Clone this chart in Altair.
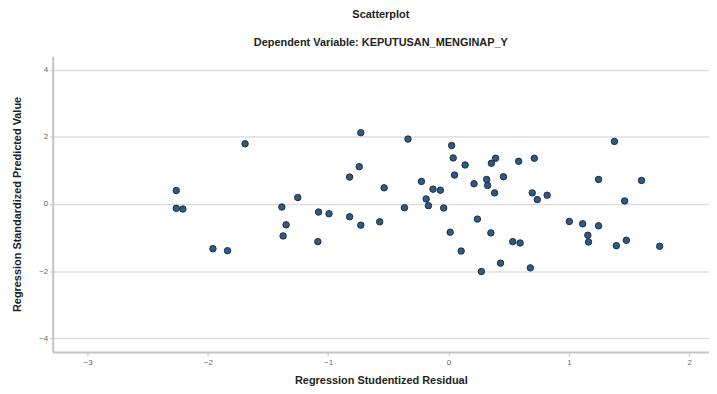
import altair as alt
import pandas as pd

residual = [
    -0.729, -1.691, -0.742, -0.822, -0.535, -2.263, -1.253, -1.385, -2.263, -2.208,
    -1.080, -0.993, -0.822, -0.729, -0.572, -1.350, -1.375, -1.086, -1.958, -1.837,
    -0.337, 1.379, 0.026, 0.039, 0.391, 0.356, 0.713, 0.583, 0.138, 0.050,
    0.457, 1.247, 1.604, -0.225, 0.212, 0.317, 0.325, -0.129, -0.068, 0.383,
    0.696, 0.738, 0.820, 1.464, -0.186, -0.167, -0.366, -0.040, 0.240, 1.004,
    1.115, 1.247, 0.014, 0.352, 1.158, 1.164, 0.534, 0.595, 1.478, 1.395,
    1.755, 0.105, 0.432, 0.680, 0.273,
]
predicted = [
    2.12, 1.79, 1.11, 0.80, 0.48, 0.40, 0.19, -0.09, -0.13, -0.15,
    -0.24, -0.29, -0.38, -0.63, -0.53, -0.62, -0.95, -1.12, -1.33, -1.39,
    1.93, 1.86, 1.74, 1.37, 1.36, 1.21, 1.36, 1.27, 1.16, 0.86,
    0.81, 0.73, 0.70, 0.67, 0.60, 0.73, 0.55, 0.44, 0.41, 0.33,
    0.33, 0.13, 0.26, 0.09, 0.15, -0.05, -0.11, -0.12, -0.45, -0.52,
    -0.59, -0.65, -0.84, -0.86, -0.93, -1.13, -1.12, -1.16, -1.08, -1.24,
    -1.26, -1.40, -1.76, -1.90, -2.01,
]
x_ticks = [-3, -2, -1, 0, 1, 2]
y_ticks = [-4, -2, 0, 2, 4]

df = pd.DataFrame({"res": residual, "pred": predicted})

chart = (
    alt.Chart(df)
    .mark_circle(size=42, opacity=1, color="#2c5b86", stroke="#1f2d3d", strokeWidth=1)
    .encode(
        x=alt.X(
            "res:Q",
            scale=alt.Scale(domain=[-3.29, 2.165], nice=False, zero=False),
            axis=alt.Axis(
                title="Regression Studentized Residual",
                values=x_ticks,
                grid=False,
                tickSize=4,
                labelPadding=3,
                titleY=29,
                titleBaseline="middle",
            ),
        ),
        y=alt.Y(
            "pred:Q",
            scale=alt.Scale(domain=[-4.4, 4.4], nice=False, zero=False),
            axis=alt.Axis(
                title="Regression Standardized Predicted Value",
                values=y_ticks,
                grid=True,
                tickSize=3,
                labelPadding=2,
                titleX=-35,
                titleY=149,
                titleAngle=-90,
                titleAlign="center",
                titleBaseline="middle",
            ),
        ),
    )
    .properties(
        width=661,
        height=298,
        title=alt.Title(
            "Scatterplot",
            subtitle="Dependent Variable: KEPUTUSAN_MENGINAP_Y",
            anchor="middle",
            font="Liberation Sans",
            fontSize=11,
            fontWeight="bold",
            color="#222222",
            subtitleFont="Liberation Sans",
            subtitleFontSize=11,
            subtitleFontWeight="bold",
            subtitleColor="#222222",
            subtitlePadding=17,
            offset=8,
        ),
        autosize=alt.AutoSizeParams(type="none"),
        padding={"left": 45, "top": 47, "right": 0, "bottom": 38},
    )
    .configure_view(stroke=None)
    .configure_axis(
        labelFont="Liberation Sans",
        labelFontSize=8,
        labelColor="#666666",
        titleFont="Liberation Sans",
        titleFontSize=11,
        titleFontWeight="bold",
        titleColor="#222222",
        domainColor="#c4c4c4",
        domainWidth=2,
        tickColor="#c4c4c4",
        gridColor="#dedede",
        gridWidth=1.5,
    )
)

chart.save("out.html", embed_options={"renderer": "svg", "actions": False})
